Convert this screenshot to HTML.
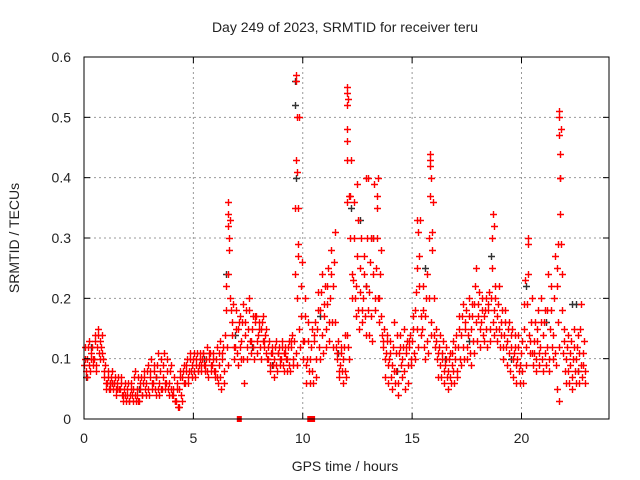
<!DOCTYPE html>
<html><head><meta charset="utf-8"><style>
body{margin:0;background:#fff}
svg{display:block;font-family:"Liberation Sans",sans-serif}
</style></head><body>
<svg id="chart" width="640" height="480">
<text x="345" y="32" font-size="14" text-anchor="middle" fill="#222">Day 249 of 2023, SRMTID for receiver teru</text>
<text x="345" y="471" font-size="14" text-anchor="middle" fill="#222">GPS time / hours</text>
<text transform="translate(19,238) rotate(-90)" font-size="14" text-anchor="middle" fill="#222">SRMTID / TECUs</text>
<g id="grid"></g>
<g id="marks"></g>
<rect x="84" y="57" width="525" height="362" fill="none" stroke="#000" stroke-width="1"/>
<g id="ticks"></g>
</svg>
<script>
const xTicks=[0,5,10,15,20];
const yTicks=[0,0.1,0.2,0.3,0.4,0.5,0.6];
const yTickLabels=["0","0.1","0.2","0.3","0.4","0.5","0.6"];
const step=0.15;
const seriesA=[9,10,11,10,12,13,7,6,6,6,5,5,4,4,4,5,4,5,6,6,7,6,7,6,7,6,6,4,3,5,7,8,8,9,9,9,10,9,10,9,8,9,10,14,24,14,12,15,13,14,15,13,16,14,15,13,10,11,10,11,10,11,10,12,13,20,17,13,10,10,13,15,18,17,19,20,22,10,9,10,14,30,23,22,21,20,22,21,24,25,20,12,11,10,9,8,11,10,11,12,13,18,22,15,17,20,28,12,11,10,9,8,9,10,12,14,15,14,15,19,17,16,17,18,20,18,17,14,14,13,12,11,10,9,15,19,13,11,13,12,14,12,15,14,22,40,11,10,9,10,10,11,9];
const seriesB=[12,13,12,14,15,14,9,8,8,7,7,7,6,6,6,8,7,7,8,9,10,9,11,10,11,10,9,7,6,8,9,10,11,11,11,11,11,12,11,11,12,13,12,22,33,19,18,17,19,18,20,17,17,16,17,15,13,12,13,12,13,12,13,14,35,50,26,20,16,15,16,21,24,22,25,28,31,13,12,14,53,43,36,33,30,27,40,30,39,37,28,15,14,13,16,14,14,15,13,14,17,25,33,22,24,42,36,15,14,13,12,11,13,14,17,19,18,20,19,25,21,20,20,21,30,22,22,18,18,16,15,14,14,13,23,29,20,16,18,20,18,24,22,27,29,48,15,14,13,15,14,19,13];
const seriesC=[7,8,9,8,10,10,5,5,5,4,5,3,3,3,3,3,3,4,4,4,5,4,4,5,5,4,4,3,2,3,6,6,7,7,8,8,8,7,8,7,6,5,6,9,18,10,9,10,6,10,11,10,11,10,12,10,8,7,8,9,8,8,8,9,9,12,10,6,6,6,7,10,11,12,13,12,12,7,6,7,10,20,17,15,16,14,14,13,18,16,14,7,6,5,6,4,7,5,6,9,10,12,14,10,11,14,14,7,7,6,5,6,6,7,9,10,10,9,11,13,12,13,12,13,14,13,12,10,9,8,7,6,6,6,9,11,9,8,9,8,9,8,10,9,12,18,6,6,5,6,6,7,6];
const seriesD=[10,12,10,13,14,12,8,7,7,6,6,6,5,5,5,7,5,6,7,8,8,8,9,8,9,8,8,5,5,7,8,9,10,10,10,10,11,10,11,10,10,11,11,18,28,16,15,16,16,16,18,15,17,15,16,14,12,11,12,11,12,11,12,13,24,35,22,17,13,12,14,18,21,19,22,24,26,11,11,12,36,37,30,27,25,24,30,26,30,30,24,13,13,11,12,11,12,12,12,13,15,21,27,18,20,30,31,13,12,11,10,10,11,12,15,17,16,17,17,22,19,18,18,19,25,20,19,16,16,15,14,12,12,11,19,24,16,13,15,16,16,18,18,20,25,44,13,12,11,12,12,15,11];
const seriesE=[8,9,10,9,11,11,6,5,6,5,5,4,4,3,4,4,3,4,5,5,6,5,5,5,6,5,5,3,2,4,6,7,8,8,8,9,9,8,9,8,7,7,8,12,20,12,11,12,10,12,13,12,13,12,13,11,9,9,9,10,9,10,9,10,11,15,13,9,8,8,10,12,14,15,16,16,16,8,8,8,12,24,20,18,18,17,18,17,20,20,17,10,9,7,8,6,9,8,9,10,11,15,17,12,13,16,20,10,9,8,7,7,8,8,10,12,12,11,13,16,15,14,15,15,16,15,15,12,12,11,10,9,8,8,12,14,11,10,11,10,11,10,12,11,16,24,8,8,7,8,8,9,8];
const spikeT=[6.6,6.6,6.6,6.65,9.7,9.7,9.72,9.7,9.75,9.78,9.8,12.0,12.0,12.02,12.0,12.03,12.0,12.1,12.5,12.9,13.45,13.4,15.2,15.25,15.8,15.82,15.85,15.8,18.7,18.72,20.3,21.7,21.72,21.7,21.75,21.75,21.8,21.7,21.6];
const spikeV=[0.36,0.34,0.32,0.30,0.57,0.56,0.50,0.43,0.41,0.29,0.27,0.55,0.54,0.52,0.48,0.46,0.43,0.37,0.39,0.40,0.40,0.35,0.33,0.31,0.44,0.43,0.40,0.37,0.34,0.32,0.30,0.51,0.50,0.47,0.40,0.34,0.29,0.03,0.05];
const darkT=[0.1,0.3,1.2,2.5,3.3,5.5,6.5,6.9,7.7,8.6,9.66,9.65,9.68,10.8,11.6,12.2,12.6,12.9,13.2,14.3,15.6,16.5,17.6,18.6,19.5,20.2,21.1,22.3,22.5,22.6];
const darkV=[0.07,0.12,0.06,0.05,0.07,0.10,0.24,0.14,0.12,0.09,0.56,0.52,0.40,0.17,0.11,0.35,0.33,0.22,0.30,0.08,0.25,0.10,0.13,0.27,0.10,0.22,0.16,0.19,0.19,0.08];
const zeroT=[7.1,10.32,10.45];

const X0=84,X1=609,Y0=419,Y1=57,XMAX=24,YMAX=0.6;
const sx=t=>X0+(X1-X0)*t/XMAX;
const sy=v=>Y0-(Y0-Y1)*v/YMAX;
const NS="http://www.w3.org/2000/svg";
const grid=document.getElementById('grid'),ticks=document.getElementById('ticks'),marks=document.getElementById('marks');
function mk(tag,attrs,parent){const e=document.createElementNS(NS,tag);for(const k in attrs)e.setAttribute(k,attrs[k]);parent.appendChild(e);return e;}
xTicks.forEach(t=>{
  const x=sx(t);
  if(t>0){const g=mk('line',{x1:x,x2:x,y1:Y1,y2:Y0,stroke:'#999','stroke-dasharray':'2,3'},grid);
  
  }
  const a=mk('line',{x1:x,x2:x,y1:Y0,y2:Y0-6,stroke:'#000'},ticks);
  
  
  const b=mk('line',{x1:x,x2:x,y1:Y1,y2:Y1+6,stroke:'#000'},ticks);
  
  
  const l=mk('text',{x:x,y:Y0+24,'font-size':14,'text-anchor':'middle',fill:'#222'},ticks);
  l.textContent=String(t);
  
  
});
yTicks.forEach((v,i)=>{
  const y=sy(v);
  if(v>0&&v<YMAX){const g=mk('line',{x1:X0,x2:X1,y1:y,y2:y,stroke:'#999','stroke-dasharray':'2,3'},grid);
  
  }
  const a=mk('line',{x1:X0,x2:X0+6,y1:y,y2:y,stroke:'#000'},ticks);
  
  
  const b=mk('line',{x1:X1,x2:X1-6,y1:y,y2:y,stroke:'#000'},ticks);
  
  
  const l=mk('text',{x:X0-13,y:y+5,'font-size':14,'text-anchor':'end',fill:'#222'},ticks);
  l.textContent=yTickLabels[i];
  
  
});
function plus(t,v,color,name){
  const x=Math.round(sx(t))+0.5,y=Math.round(sy(v))+0.5;
  const p=mk('path',{d:`M${x-3.5},${y}H${x+3.5}M${x},${y-3.5}V${y+3.5}`,stroke:color,'stroke-width':1.4,fill:'none'},marks);
  
  
}
darkT.forEach((t,i)=>plus(t,darkV[i],'#333','dark-point'));
[[seriesA,0],[seriesD,0.03],[seriesB,0.06],[seriesE,0.09],[seriesC,0.12]].forEach(([arr,off])=>{
  arr.forEach((v,i)=>plus(i*step+off,v/100,'#ff0000','red-point'));
});
spikeT.forEach((t,i)=>plus(t,spikeV[i],'#ff0000','red-spike-point'));
zeroT.forEach(t=>{
  const r=mk('rect',{x:sx(t)-2.5,y:Y0-3,width:5,height:6,fill:'#ff0000'},marks);
  
  
});
</script>
</body></html>
